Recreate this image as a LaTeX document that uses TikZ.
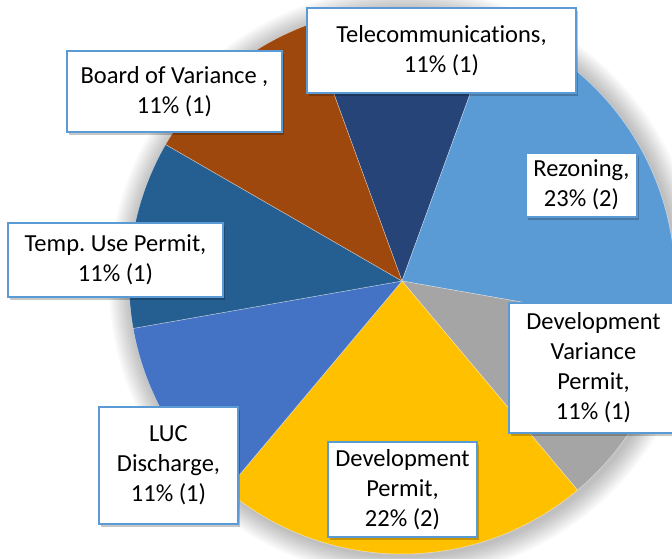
\documentclass[tikz,border=0pt]{standalone}
\usepackage{fontspec}
\setmainfont{Carlito}[Ligatures=NoCommon]
\frenchspacing
\usetikzlibrary{shadows}
\definecolor{cTel}{HTML}{264478}
\definecolor{cRez}{HTML}{5B9BD5}
\definecolor{cDVP}{HTML}{A5A5A5}
\definecolor{cDP}{HTML}{FFC000}
\definecolor{cLUC}{HTML}{4472C4}
\definecolor{cTUP}{HTML}{255E91}
\definecolor{cBoV}{HTML}{9E480E}
\definecolor{lblborder}{HTML}{5B9BD5}
\tikzset{
  slice/.style={draw=white, draw opacity=0.5, line width=0.5pt},
  glow/.style={fill=black, fill opacity=0.022},
  lbl/.style={draw=lblborder, line width=1.3pt, fill=white, inner sep=0pt, align=center,
    font=\fontsize{24.5}{30}\selectfont,
    drop shadow={shadow xshift=1.5pt, shadow yshift=-3pt, opacity=0.22, fill=black}},
}
\begin{document}
\begin{tikzpicture}[x=1pt,y=1pt]
\useasboundingbox (0,0) rectangle (672,558);
\clip (0,0) rectangle (672,558);
\fill[white] (0,0) rectangle (672,558);
\coordinate (C) at (402,277);
\coordinate (S) at (404,275);
\foreach \k in {1,...,11} {
  \fill[glow] (S) circle[radius={273pt+2pt*\k}];
}
\fill[cTel, slice] (C) -- ++(70:273pt) arc[start angle=70, end angle=110, radius=273pt] -- cycle;
\fill[cRez, slice] (C) -- ++(-10:273pt) arc[start angle=-10, end angle=70, radius=273pt] -- cycle;
\fill[cDVP, slice] (C) -- ++(-50:273pt) arc[start angle=-50, end angle=-10, radius=273pt] -- cycle;
\fill[cDP, slice] (C) -- ++(-130:273pt) arc[start angle=-130, end angle=-50, radius=273pt] -- cycle;
\fill[cLUC, slice] (C) -- ++(-170:273pt) arc[start angle=-170, end angle=-130, radius=273pt] -- cycle;
\fill[cTUP, slice] (C) -- ++(150:273pt) arc[start angle=150, end angle=190, radius=273pt] -- cycle;
\fill[cBoV, slice] (C) -- ++(110:273pt) arc[start angle=110, end angle=150, radius=273pt] -- cycle;

\node[lbl, minimum width=269pt, minimum height=85pt] (tel) at (441.5,507.5) {Telecommunications,\\11\% (1)};
\node[lbl, minimum width=111pt, minimum height=64pt] (rez) at (581.5,373) {Rezoning,\\23\% (2)};
\node[lbl, minimum width=215pt, minimum height=81pt] (bov) at (174.5,466.5) {Board of Variance ,\\11\% (1)};
\node[lbl, minimum width=215pt, minimum height=74pt] (tup) at (115.5,298) {Temp. Use Permit,\\11\% (1)};
\node[lbl, minimum width=139pt, minimum height=117pt] (luc) at (168.5,92.5) {LUC\\Discharge,\\11\% (1)};
\node[lbl, minimum width=149pt, minimum height=95pt] (dp) at (402.5,68.5) {Development\\Permit,\\22\% (2)};
\node[lbl, minimum width=169pt, minimum height=130pt] (dvp) at (593.5,190) {Development\\Variance\\Permit,\\11\% (1)};
\end{tikzpicture}
\end{document}
